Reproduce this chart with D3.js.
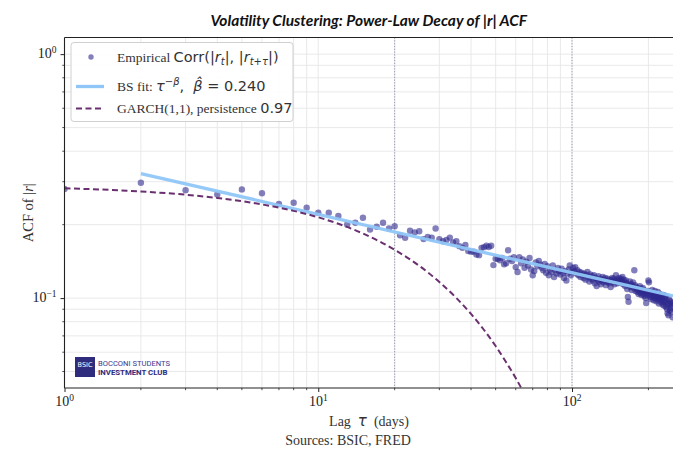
<!DOCTYPE html>
<html><head><meta charset="utf-8">
<script src="https://cdn.jsdelivr.net/npm/d3@7/dist/d3.min.js"></script>
<style>body{margin:0;background:#fff}svg{display:block}</style>
</head><body>
<svg id="chart" width="673" height="449"></svg>
<script>
// ---------- data ----------
const empLags = d3.range(1, 251);
const empValues = [
 0.280,0.297,0.277,0.266,0.279,0.269,0.243,0.246,0.2345,0.2237,
 0.224,0.217,0.2005,0.2035,0.2134,0.191,0.196,0.2036,0.193,0.197,
 0.181,0.1767,0.1888,0.186,0.188,0.1745,0.178,0.1767,0.193,0.1745,
 0.171,0.173,0.177,0.169,0.171,0.1633,0.1607,0.165,0.156,0.155,
 0.155,0.151,0.150,0.1607,0.1617,0.164,0.162,0.1638,0.1365,0.145,
 0.1448,0.143,0.146,0.1375,0.139,0.157,0.145,0.1418,0.147,0.134,
 0.128,0.147,0.139,0.144,0.133,0.141,0.136,0.146,0.131,0.124,
 0.129,0.140,0.135,0.142,0.137,0.133,0.130,0.138,0.127,0.135,
 0.124,0.131,0.128,0.136,0.122,0.130,0.126,0.133,0.129,0.125,
 0.132,0.127,0.121,0.129,0.118,0.126,0.131,0.136,0.124,0.128,
 0.133,0.129,0.134,0.126,0.130,0.124,0.128,0.122,0.127,0.125,
 0.121,0.126,0.119,0.124,0.128,0.122,0.117,0.125,0.120,0.123,
 0.118,0.124,0.115,0.121,0.112,0.119,0.123,0.117,0.120,0.114,
 0.118,0.122,0.116,0.119,0.121,0.113,0.117,0.120,0.1167,0.115,
 0.119,0.111,0.118,0.121,0.116,0.120,0.114,0.118,0.124,0.117,
 0.115,0.119,0.121,0.116,0.118,0.120,0.117,0.122,0.114,0.119,
 0.116,0.112,0.118,0.115,0.109,0.101,0.0966,0.113,0.117,0.111,
 0.114,0.108,0.112,0.116,0.110,0.130,0.113,0.107,0.111,0.109,
 0.106,0.110,0.104,0.108,0.112,0.105,0.109,0.103,0.107,0.110,
 0.104,0.108,0.102,0.106,0.100,0.0954,0.105,0.103,0.107,0.118,
 0.116,0.104,0.101,0.106,0.099,0.103,0.108,0.101,0.105,0.098,
 0.102,0.107,0.100,0.104,0.097,0.103,0.099,0.106,0.101,0.095,
 0.100,0.104,0.098,0.102,0.096,0.101,0.099,0.094,0.103,0.097,
 0.093,0.100,0.096,0.102,0.092,0.098,0.090,0.0866,0.095,0.085,
 0.099,0.094,0.089,0.097,0.091,0.095,0.088,0.093,0.0835,0.096
];
const fitLags = [2, 250];
const fitValues = [0.324, 0.102];
const garchLags = [1,2,3,4,5,6,8,10,12,15,20,25,30,35,40,45,50,55,60,65];
const garchValues = [0.282,0.2735,0.2653,0.2574,0.2496,0.2421,0.2278,0.2144,0.2017,0.1839,
                     0.1577,0.1356,0.1165,0.1001,0.0861,0.0740,0.0636,0.0546,0.0470,0.0404];
const refLags = [20, 100];
const xMajorTicks = [1, 10, 100];
const xMajorLabels = ["0", "1", "2"];
const yMajorTicks = [0.1, 1];
const yMajorLabels = ["−1", "0"];

// ---------- layout ----------
const L = 64.5, R = 673, T = 37.5, B = 388;
const svg = d3.select("#chart");
const x = d3.scaleLog().domain([1, 250]).range([L, R]);
const y = d3.scaleLog().domain([0.0428, 1.17]).range([B, T]);
const serif = "'Liberation Serif', 'Times New Roman', serif";
const sans = "'DejaVu Sans', sans-serif";

svg.append("defs").append("clipPath").attr("id", "clip")
  .append("rect").attr("x", L).attr("y", T).attr("width", R - L).attr("height", B - T);

// grid (major + minor)
const xGrid = [];
for (let d = 1; d <= 100; d *= 10) for (let k = 1; k <= 9; k++) { const v = d * k; if (v > 1 && v <= 250) xGrid.push(v); }
const yGrid = [];
[0.01, 0.1].forEach(d => { for (let k = 1; k <= 9; k++) { const v = d * k; if (v >= 0.0428 && v <= 1.17) yGrid.push(v); } });
yGrid.push(1);
const grid = svg.append("g").attr("stroke", "#e6e6e6").attr("stroke-width", 0.9);
grid.selectAll(".gx").data(xGrid).join("line").attr("x1", d => x(d)).attr("x2", d => x(d)).attr("y1", T).attr("y2", B);
grid.selectAll(".gy").data(yGrid).join("line").attr("y1", d => y(d)).attr("y2", d => y(d)).attr("x1", L).attr("x2", R);

// reference vertical dotted lines
svg.append("g").selectAll("line").data(refLags).join("line")
  .attr("x1", d => x(d)).attr("x2", d => x(d)).attr("y1", T).attr("y2", B)
  .attr("stroke", "#8a8aa8").attr("stroke-width", 0.9).attr("stroke-dasharray", "1.2,1.6");

const plot = svg.append("g").attr("clip-path", "url(#clip)");

// empirical points
plot.append("g").selectAll("circle").data(empLags).join("circle")
  .attr("cx", (d) => x(d)).attr("cy", (d, i) => y(empValues[i])).attr("r", 3.2)
  .attr("fill", "#2e2a8e").attr("fill-opacity", 0.6);

// fit line
plot.append("path").datum(fitLags.map((d, i) => [d, fitValues[i]]))
  .attr("d", d3.line().x(d => x(d[0])).y(d => y(d[1])))
  .attr("fill", "none").attr("stroke", "#8fc6f7").attr("stroke-width", 3.3).attr("stroke-opacity", 0.95);

// GARCH
plot.append("path").datum(garchLags.map((d, i) => [d, garchValues[i]]))
  .attr("d", d3.line().curve(d3.curveMonotoneX).x(d => x(d[0])).y(d => y(d[1])))
  .attr("fill", "none").attr("stroke", "#6a2f6f").attr("stroke-width", 2).attr("stroke-dasharray", "6,3.5");

// spines
const sp = svg.append("g").attr("stroke", "#222").attr("stroke-width", 1.1);
sp.append("line").attr("x1", L).attr("x2", L).attr("y1", T).attr("y2", B);
sp.append("line").attr("x1", L).attr("x2", R).attr("y1", B).attr("y2", B);
sp.append("line").attr("x1", L).attr("x2", R).attr("y1", T).attr("y2", T);

// ticks
const xAxis = d3.axisBottom(x).tickValues(xMajorTicks).tickSize(4).tickFormat("");
const gx = svg.append("g").attr("transform", `translate(0,${B})`).call(xAxis);
gx.select(".domain").remove();
gx.selectAll(".tick line").attr("stroke", "#222");
const xMinor = xGrid.filter(v => !xMajorTicks.includes(v));
svg.append("g").selectAll("line").data(xMinor).join("line")
  .attr("x1", d => x(d)).attr("x2", d => x(d)).attr("y1", B).attr("y2", B + 2.2).attr("stroke", "#222").attr("stroke-width", 0.8);
const yAxis = d3.axisLeft(y).tickValues(yMajorTicks).tickSize(4).tickFormat("");
const gy = svg.append("g").attr("transform", `translate(${L},0)`).call(yAxis);
gy.select(".domain").remove();
gy.selectAll(".tick line").attr("stroke", "#222");
const yMinor = yGrid.filter(v => !yMajorTicks.includes(v));
svg.append("g").selectAll("line").data(yMinor).join("line")
  .attr("y1", d => y(d)).attr("y2", d => y(d)).attr("x1", L).attr("x2", L - 2.2).attr("stroke", "#222").attr("stroke-width", 0.8);

// tick labels
xMajorTicks.forEach((v, i) => {
  const t = svg.append("text").attr("x", x(v)).attr("y", B + 18).attr("text-anchor", "middle")
    .attr("font-family", serif).attr("font-size", 14).attr("fill", "#222");
  t.append("tspan").text("10");
  t.append("tspan").attr("dy", -5).attr("font-size", 9.5).text(xMajorLabels[i]);
});
yMajorTicks.forEach((v, i) => {
  const t = svg.append("text").attr("x", L - 8).attr("y", y(v) + 4).attr("text-anchor", "end")
    .attr("font-family", serif).attr("font-size", 14).attr("fill", "#222");
  t.append("tspan").text("10");
  t.append("tspan").attr("dy", -5).attr("font-size", 9.5).text(yMajorLabels[i]);
});

// title
svg.append("text").attr("x", (L + R) / 2).attr("y", 26).attr("text-anchor", "middle")
  .attr("font-family", "Lato, 'Open Sans', sans-serif").attr("font-weight", "bold").attr("font-style", "italic")
  .attr("font-size", 15.5).attr("fill", "#111").text("Volatility Clustering: Power-Law Decay of |r| ACF");

// y label
const yl = svg.append("text").attr("transform", `translate(33,${(T + B) / 2}) rotate(-90)`).attr("text-anchor", "middle")
  .attr("font-family", serif).attr("font-size", 14.5).attr("fill", "#333");
yl.append("tspan").text("ACF of |");
yl.append("tspan").attr("font-style", "italic").text("r");
yl.append("tspan").text("|");

// x label
const xl = svg.append("text").attr("x", 369).attr("y", 426).attr("text-anchor", "middle")
  .attr("font-family", serif).attr("font-size", 14).attr("fill", "#333").attr("xml:space", "preserve");
xl.append("tspan").text("Lag  ");
xl.append("tspan").attr("font-family", sans).attr("font-size", 15).attr("font-style", "italic").text("τ");
xl.append("tspan").text("  (days)");

svg.append("text").attr("x", 348).attr("y", 445).attr("text-anchor", "middle")
  .attr("font-family", serif).attr("font-size", 14).attr("fill", "#333").text("Sources: BSIC, FRED");

// legend
const lg = svg.append("g");
lg.append("rect").attr("x", 71).attr("y", 42.5).attr("width", 222).attr("height", 79).attr("rx", 3)
  .attr("fill", "#fff").attr("fill-opacity", 0.9).attr("stroke", "#d0d0d0").attr("stroke-width", 1);
lg.append("circle").attr("cx", 91).attr("cy", 57).attr("r", 2.7).attr("fill", "#2e2a8e").attr("fill-opacity", 0.6);
lg.append("line").attr("x1", 76).attr("x2", 104).attr("y1", 86.5).attr("y2", 86.5).attr("stroke", "#8fc6f7").attr("stroke-width", 3.3);
lg.append("line").attr("x1", 76).attr("x2", 104).attr("y1", 108.5).attr("y2", 108.5).attr("stroke", "#6a2f6f").attr("stroke-width", 2).attr("stroke-dasharray", "6,3.5");

const t1 = lg.append("text").attr("x", 117).attr("y", 62).attr("font-size", 13.5).attr("fill", "#333").attr("xml:space", "preserve");
t1.append("tspan").attr("font-family", serif).text("Empirical ");
t1.append("tspan").attr("font-family", sans).attr("font-size", 14.5).text("Corr(|");
t1.append("tspan").attr("font-family", sans).attr("font-size", 14.5).attr("font-style", "italic").text("r");
t1.append("tspan").attr("font-family", sans).attr("font-size", 10).attr("font-style", "italic").attr("dy", 3).text("t");
t1.append("tspan").attr("font-family", sans).attr("font-size", 14.5).attr("dy", -3).text("|, |");
t1.append("tspan").attr("font-family", sans).attr("font-size", 14.5).attr("font-style", "italic").text("r");
t1.append("tspan").attr("font-family", sans).attr("font-size", 10).attr("font-style", "italic").attr("dy", 3).text("t+τ");
t1.append("tspan").attr("font-family", sans).attr("font-size", 14.5).attr("dy", -3).text("|)");

const t2 = lg.append("text").attr("x", 117).attr("y", 91).attr("font-size", 13.5).attr("fill", "#333").attr("xml:space", "preserve");
t2.append("tspan").attr("font-family", serif).text("BS fit: ");
t2.append("tspan").attr("font-family", sans).attr("font-size", 14.5).attr("font-style", "italic").text("τ");
t2.append("tspan").attr("font-family", sans).attr("font-size", 10).attr("dy", -6).text("−");
t2.append("tspan").attr("font-family", sans).attr("font-size", 10).attr("font-style", "italic").text("β");
t2.append("tspan").attr("font-family", sans).attr("font-size", 14.5).attr("dy", 6).text(",  ");
t2.append("tspan").attr("font-family", sans).attr("font-size", 14.5).attr("font-style", "italic").text("β̂");
t2.append("tspan").attr("font-family", sans).attr("font-size", 14.5).text(" = 0.240");

const t3 = lg.append("text").attr("x", 117).attr("y", 113).attr("font-size", 13.5).attr("fill", "#333").attr("xml:space", "preserve");
t3.append("tspan").attr("font-family", serif).text("GARCH(1,1), persistence ");
t3.append("tspan").attr("font-family", sans).attr("font-size", 14.5).text("0.97");

// logo
const lo = svg.append("g");
lo.append("rect").attr("x", 75).attr("y", 357).attr("width", 20).attr("height", 20).attr("fill", "#2f2c7e");
lo.append("text").attr("x", 85).attr("y", 367).attr("text-anchor", "middle").attr("font-family", sans)
  .attr("font-size", 6.5).attr("fill", "#fff").text("BSIC");
lo.append("text").attr("x", 98).attr("y", 366).attr("font-family", "Roboto, sans-serif").attr("font-size", 7.6)
  .attr("fill", "#3a3690").text("BOCCONI STUDENTS");
lo.append("text").attr("x", 98).attr("y", 375).attr("font-family", "Roboto, sans-serif").attr("font-weight", "bold").attr("font-size", 7.8)
  .attr("fill", "#2f2c7e").text("INVESTMENT CLUB");
</script>
</body></html>
